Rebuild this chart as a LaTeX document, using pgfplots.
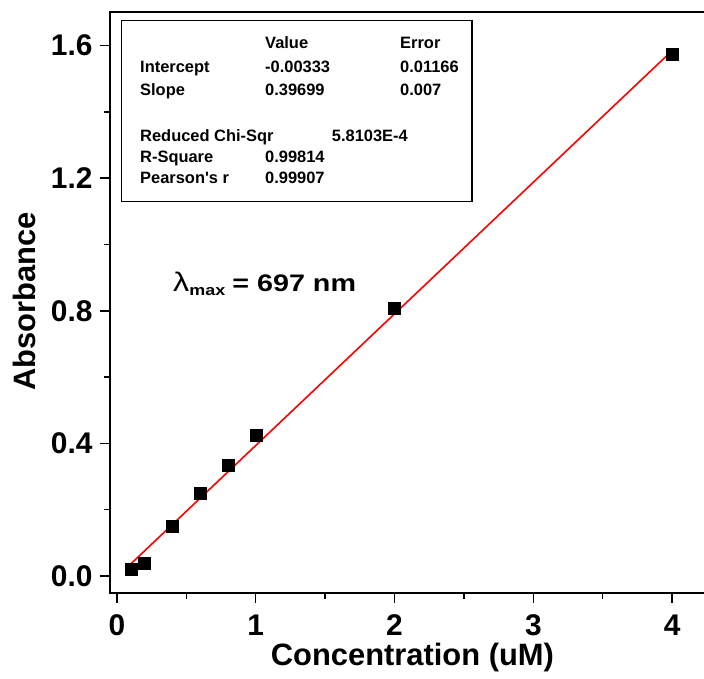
\documentclass[border=0pt]{standalone}
\usepackage{fontspec}
\setmainfont{Liberation Sans}
\usepackage{graphicx}
\usepackage{pgfplots}
\pgfplotsset{compat=1.18}
\begin{document}
\begin{tikzpicture}[x=1bp,y=1bp]
\begin{axis}[
  scale only axis, width=600bp, height=581bp,
  xmin=-0.05, xmax=4.273, ymin=-0.0513, ymax=1.7013,
  axis line style={line width=1.5bp},
  tick align=outside, xtick pos=bottom, ytick pos=left,
  xtick={0,1,2,3,4}, ytick={0,0.4,0.8,1.2,1.6},
  minor x tick num=1, minor y tick num=1,
  major tick length=10bp, minor tick length=6bp,
  every tick/.append style={black, line width=1.5bp},
  every minor tick/.append style={black, line width=1.5bp},
  /pgf/number format/assume math mode=true,
  tick label style={font=\fontsize{30}{30}\selectfont\bfseries},
  y tick label style={xshift=-4bp, /pgf/number format/.cd, fixed, fixed zerofill, precision=1, /tikz/.cd},
  x tick label style={yshift=-8bp, /pgf/number format/.cd, fixed, precision=0, /tikz/.cd},
  xlabel={Concentration (uM)}, ylabel={Absorbance},
  label style={font=\fontsize{31}{31}\selectfont\bfseries},
  xlabel style={at={(axis cs:2.129,-0.2685)}, anchor=base},
  ylabel style={at={(axis cs:-0.590,0.828)}, anchor=base},
]
\addplot[red, line width=1.6bp] coordinates {(0.1,0.03637) (4,1.58463)};
\addplot[only marks, mark=square*, mark size=6bp, black] coordinates {
  (0.1,0.021) (0.2,0.040) (0.4,0.149) (0.6,0.251) (0.8,0.334) (1.0,0.425) (2.0,0.809) (4.0,1.574)};
\end{axis}
\draw[line width=1.2bp] (11.7,391.5) rectangle (362,572.3);
\begin{scope}[every node/.style={anchor=base west, inner sep=0pt, font=\fontsize{16.5}{16.5}\selectfont\bfseries}]
\node at (155,544) {Value};
\node at (290,544) {Error};
\node at (30,520.5) {Intercept};
\node at (155,520.5) {-0.00333};
\node at (290,520.5) {0.01166};
\node at (30,497.5) {Slope};
\node at (155,497.5) {0.39699};
\node at (290,497.5) {0.007};
\node at (30,451.3) {Reduced Chi-Sqr};
\node at (221.7,451.3) {5.8103E-4};
\node at (30,430.3) {R-Square};
\node at (155,430.3) {0.99814};
\node at (30,409.5) {Pearson\textquotesingle s r};
\node at (155,409.5) {0.99907};
\end{scope}
\node[anchor=base west, inner sep=0pt, font=\fontsize{24}{24}\selectfont\bfseries] at (63,301.3)
  {\scalebox{1.2}[1]{{\mdseries\fontsize{27}{27}\selectfont λ}\raisebox{-3.5bp}{\fontsize{15}{15}\selectfont max}\hspace{6bp}= 697 nm}};
\pgfresetboundingbox
\useasboundingbox (-110,-86) rectangle (594,593);
\end{tikzpicture}
\end{document}
